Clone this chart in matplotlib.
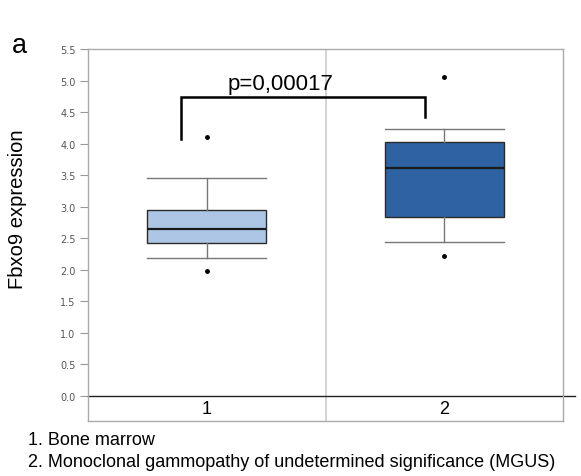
import matplotlib.pyplot as plt
import matplotlib.transforms as mtransforms

plt.rcParams['font.family'] = ['Liberation Sans', 'DejaVu Sans']

groups = ['1', '2']
# box stats: low whisker, q1, median, q3, high whisker
whislo = [2.19, 2.44]
q1 = [2.42, 2.83]
med = [2.65, 3.61]
q3 = [2.95, 4.03]
whishi = [3.46, 4.23]
fliers = [[1.98, 4.10], [2.21, 5.05]]
colors = ['#adc6e6', '#2f62a3']
yticks = [0.0, 0.5, 1.0, 1.5, 2.0, 2.5, 3.0, 3.5, 4.0, 4.5, 5.0, 5.5]
notes = ['1. Bone marrow', '2. Monoclonal gammopathy of undetermined significance (MGUS)']
pval = 'p=0,00017'
bracket_y = [4.07, 4.74, 4.42]

fig = plt.figure(figsize=(5.81, 4.77), dpi=100)
ax = fig.add_axes([88/581, 1-422/477, 475/581, 372/477])

stats = []
for i in range(len(groups)):
    stats.append(dict(med=med[i], q1=q1[i], q3=q3[i], whislo=whislo[i],
                      whishi=whishi[i], fliers=fliers[i], label=groups[i]))

bp = ax.bxp(stats, positions=[1, 2], widths=0.5, capwidths=0.5, patch_artist=True,
            boxprops=dict(edgecolor='#2a2a2a', linewidth=1.0),
            medianprops=dict(color='#1a1a1a', linewidth=1.6),
            whiskerprops=dict(color='#777777', linewidth=1.0),
            capprops=dict(color='#777777', linewidth=1.0),
            flierprops=dict(marker='o', markersize=2.5, markerfacecolor='black',
                            markeredgecolor='black'))
for patch, c in zip(bp['boxes'], colors):
    patch.set_facecolor(c)

ax.set_xlim(0.5, 2.5)
ax.set_ylim(-0.4, 5.5)
ax.set_yticks(yticks)
ax.set_yticklabels(['%.1f' % t for t in yticks], fontsize=7, color='#555555',
                   family='DejaVu Sans')
ax.tick_params(axis='y', length=6, color='#999999', pad=3)
ax.set_xticks([])
for s in ax.spines.values():
    s.set_color('#aaaaaa')
    s.set_linewidth(1.0)

# divider between the groups and the zero line
ax.axvline(1.5, color='#cccccc', linewidth=1.2, zorder=0)
trans = mtransforms.blended_transform_factory(ax.transAxes, ax.transData)
ax.plot([0, 1.025], [0, 0], transform=trans, color='#222222', linewidth=1.0, clip_on=False)
for i, g in enumerate(groups):
    ax.text(i + 1, -0.2, g, ha='center', va='center', fontsize=13)

# significance bracket
bx1, bx2 = 0.89, 1.92
ax.plot([bx1, bx1, bx2, bx2], bracket_y[:2] + [bracket_y[1], bracket_y[2]],
        color='black', linewidth=1.8, solid_joinstyle='miter')
ax.text(1.31, 4.78, pval, ha='center', va='bottom', fontsize=16)

fig.text(18/581, 1-209/477, 'Fbxo9 expression', rotation=90, ha='center', va='center',
         fontsize=14.5)
fig.text(12/581, 1-46/477, 'a', fontsize=19.5, va='center')
fig.text(28/581, 1-441/477, notes[0], fontsize=13, va='center')
fig.text(28/581, 1-463/477, notes[1], fontsize=13, va='center')

fig.savefig('out.png', dpi=100)
